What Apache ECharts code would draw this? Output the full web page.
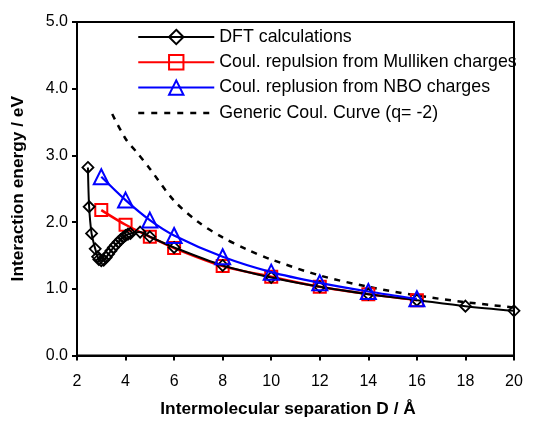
<!DOCTYPE html>
<html>
<head>
<meta charset="utf-8">
<script src="https://cdn.jsdelivr.net/npm/echarts@6/dist/echarts.min.js"></script>
<style>html,body{margin:0;padding:0;background:#fff}#c{width:536px;height:424px}</style>
</head>
<body>
<div id="c"></div>
<script>
var dftX = [2.45, 2.5, 2.6, 2.75, 2.85, 2.9, 3.0, 3.1, 3.2, 3.3, 3.4, 3.5, 3.6, 3.7, 3.8, 3.9, 4.0, 4.1, 4.2, 4.6, 5, 6, 8, 10, 12, 14, 16, 18, 20];
var dftY = [2.82, 2.23, 1.83, 1.60, 1.48, 1.44, 1.42, 1.43, 1.47, 1.52, 1.57, 1.62, 1.66, 1.70, 1.74, 1.77, 1.80, 1.82, 1.83, 1.85, 1.78, 1.62, 1.35, 1.17, 1.03, 0.92, 0.83, 0.74, 0.67];
var chargeX = [3, 4, 5, 6, 8, 10, 12, 14, 16];
var mullikenY = [2.18, 1.96, 1.78, 1.61, 1.34, 1.18, 1.03, 0.92, 0.83];
var nboY = [2.68, 2.33, 2.03, 1.80, 1.48, 1.25, 1.09, 0.96, 0.85];
var coulX = [3.45, 4, 4.5, 5, 6, 7, 8, 9, 10, 12, 14, 16, 18, 20];
var coulY = [3.62, 3.25, 3.03, 2.80, 2.32, 2.00, 1.77, 1.59, 1.44, 1.20, 1.03, 0.90, 0.80, 0.72];
var names = ['DFT calculations', 'Coul. repulsion from Mulliken charges', 'Coul. replusion from NBO charges', 'Generic Coul. Curve (q= -2)'];
var xTicks = [2, 4, 6, 8, 10, 12, 14, 16, 18, 20];
var yTicks = [0, 1, 2, 3, 4, 5];

function pairs(xs, ys) { return xs.map(function (x, i) { return [x, ys[i]]; }); }
var font = 'Arial, "Liberation Sans", sans-serif';
var chart = echarts.init(document.getElementById('c'), null, {renderer: 'canvas'});
chart.setOption({
  animation: false,
  backgroundColor: '#fff',
  grid: {left: 77, right: 22, top: 22, bottom: 68.5, show: true, borderColor: '#000', borderWidth: 2, backgroundColor: 'transparent'},
  legend: {
    orient: 'vertical', left: 137, top: 28, padding: 0,
    itemWidth: 76, itemHeight: 18, itemGap: 7.3,
    textStyle: {fontFamily: font, fontSize: 17.8, color: '#000'},
    data: [
      {name: names[0]},
      {name: names[1]},
      {name: names[2]},
      {name: names[3], itemStyle: {opacity: 0}, lineStyle: {type: [6, 7], width: 2.5}}
    ]
  },
  xAxis: {
    type: 'value', min: xTicks[0], max: xTicks[xTicks.length - 1], interval: 2,
    name: 'Intermolecular separation D / Å', nameLocation: 'middle', nameGap: 45,
    nameTextStyle: {fontFamily: font, fontSize: 17.3, fontWeight: 'bold', color: '#000', padding: [0, 15, 0, 0]},
    axisLine: {show: true, onZero: false, lineStyle: {color: '#000', width: 2}},
    axisTick: {show: true, inside: false, length: 5, lineStyle: {color: '#000', width: 2}},
    axisLabel: {fontFamily: font, fontSize: 16, color: '#000', margin: 18},
    splitLine: {show: false}
  },
  yAxis: {
    type: 'value', min: yTicks[0], max: yTicks[yTicks.length - 1], interval: 1,
    name: 'Interaction energy / eV', nameLocation: 'middle', nameGap: 50, nameRotate: 90,
    nameTextStyle: {fontFamily: font, fontSize: 17.3, fontWeight: 'bold', color: '#000'},
    axisLine: {show: true, lineStyle: {color: '#000', width: 2}},
    axisTick: {show: true, inside: false, length: 5, lineStyle: {color: '#000', width: 2}},
    axisLabel: {fontFamily: font, fontSize: 16, color: '#000', margin: 9, formatter: function (v) { return v.toFixed(1); }},
    splitLine: {show: false}
  },
  series: [
    {
      name: names[0], type: 'line', data: pairs(dftX, dftY), smooth: 0.3,
      symbol: 'diamond', symbolSize: 11, color: '#000',
      lineStyle: {color: '#000', width: 2},
      itemStyle: {color: 'rgba(255,255,255,0)', borderColor: '#000', borderWidth: 1.8},
      z: 3
    },
    {
      name: names[1], type: 'line', data: pairs(chargeX, mullikenY), smooth: 0.3,
      symbol: 'rect', symbolSize: 12, color: '#f00',
      lineStyle: {color: '#f00', width: 2.5},
      itemStyle: {color: 'rgba(255,255,255,0)', borderColor: '#f00', borderWidth: 2},
      z: 2
    },
    {
      name: names[2], type: 'line', data: pairs(chargeX, nboY), smooth: 0.3,
      symbol: 'triangle', symbolSize: 15, color: '#00f',
      lineStyle: {color: '#00f', width: 2.2},
      itemStyle: {color: 'rgba(255,255,255,0)', borderColor: '#00f', borderWidth: 2},
      z: 4
    },
    {
      name: names[3], type: 'line', data: pairs(coulX, coulY), smooth: 0.3,
      symbol: 'none', color: '#000',
      lineStyle: {color: '#000', width: 2.5, type: [6, 6.5]},
      z: 1
    }
  ]
});
</script>
</body>
</html>
